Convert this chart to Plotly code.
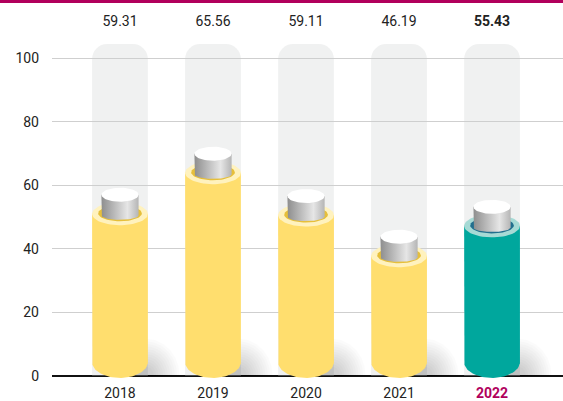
import numpy as np
import plotly.graph_objects as go

years = ['2018', '2019', '2020', '2021', '2022']
labels = [59.31, 65.56, 59.11, 46.19, 55.43]
# drawn heights (2019 is drawn taller than its label)
heights = [59.2, 72.1, 58.8, 46.0, 55.4]
highlight = [False, False, False, False, True]

MAGENTA = '#B1005C'
BG_TOP = 104.4

yellow = dict(body='#FFDE6E', rim='#FFF2BE', inner='#E6BF3A')
teal = dict(body='#00A79D', rim='#A6DAD5', inner='#226F8E')


def half_ellipse_poly(cx, top, base, a, b):
    # straight sides from top to base, rounded bottom
    t = np.linspace(np.pi, 2 * np.pi, 40)
    xs = [cx - a] + list(cx + a * np.cos(t)) + [cx + a, cx - a]
    ys = [top] + list(base + b * np.sin(t)) + [top, top]
    return xs, ys


def ellipse(cx, cy, a, b, t0=0.0, t1=2 * np.pi):
    t = np.linspace(t0, t1, 60)
    return list(cx + a * np.cos(t)), list(cy + b * np.sin(t))


def poly(fig, xs, ys, color, **kw):
    fig.add_trace(go.Scatter(x=xs, y=ys, mode='lines', fill='toself', fillcolor=color,
                             line=dict(width=0), hoverinfo='skip', **kw))


fig = go.Figure()
xpos = list(range(len(years)))

# grey "tube" behind each bar
fig.add_trace(go.Bar(x=xpos, y=[BG_TOP] * len(years), width=0.6,
                     marker=dict(color='rgba(204,209,209,0.3)', cornerradius=15, line_width=0),
                     hoverinfo='skip'))

w = 0.3
for i, v in enumerate(heights):
    c = teal if highlight[i] else yellow
    # soft shadow to the right, many faint layers
    for k in range(12):
        f = 1 - k / 12
        sx, sy = ellipse(i + w - 0.02, 0.2, 0.06 + 0.3 * f, 2 + 9.5 * f, 0, np.pi)
        poly(fig, sx, sy, 'rgba(0,0,0,0.014)')
    # body
    bx, by = half_ellipse_poly(i, v - 8.2, 4.4, w, 5.0)
    poly(fig, bx, by, c['body'])
    # rim + inner opening
    rx, ry = ellipse(i, v - 8.2, w, 3.6)
    poly(fig, rx, ry, c['rim'])
    ix, iy = ellipse(i, v - 8.05, 0.235, 2.5)
    poly(fig, ix, iy, c['inner'])
    # grey cap
    cx_, cy_ = half_ellipse_poly(i, v - 2.2, v - 8.7, 0.2, 1.4)
    fig.add_trace(go.Scatter(x=cx_, y=cy_, mode='lines', fill='toself',
                             fillgradient=dict(type='horizontal',
                                               colorscale=[[0, '#8E8E8E'], [0.7, '#E6E6E6'], [1, '#B5B5B5']]),
                             line=dict(width=0), hoverinfo='skip'))
    tx, ty = ellipse(i, v - 2.2, 0.2, 2.2)
    poly(fig, tx, ty, '#FFFFFF')

fig.add_trace(go.Scatter(
    x=xpos, y=[111.3] * len(labels), mode='text',
    text=[f'<b>{v:.2f}</b>' if h else f'{v:.2f}' for v, h in zip(labels, highlight)],
    textfont=dict(family='Roboto', size=14, color='#222222'), hoverinfo='skip'))

ticktext = [f"<b><span style='color:{MAGENTA}'>{y}</span></b>" if h else y for y, h in zip(years, highlight)]

fig.update_layout(
    width=563, height=401,
    margin=dict(l=52, r=0, t=0, b=20),
    plot_bgcolor='white', paper_bgcolor='white',
    showlegend=False,
    font=dict(family='Roboto', size=14, color='#222222'),
    xaxis=dict(range=[-0.731, 4.763], tickmode='array', tickvals=xpos, ticktext=ticktext,
               showgrid=False, zeroline=False, showline=False, ticks='', ticklabelstandoff=2),
    yaxis=dict(range=[-1.57, 118.24], tickmode='array', tickvals=[0, 20, 40, 60, 80, 100],
               gridcolor='#CFCFCF', gridwidth=1, zeroline=True, zerolinecolor='#111111',
               zerolinewidth=1.5, showline=False, ticks='', ticklabelstandoff=12),
    shapes=[dict(type='rect', xref='paper', yref='paper', x0=-0.11, x1=1.0,
                 y0=1 - 3 / 381, y1=1.0, fillcolor=MAGENTA, line_width=0)],
)

fig.write_html('out.html', config={'displayModeBar': False},
               post_script="document.body.style.margin='0';")
